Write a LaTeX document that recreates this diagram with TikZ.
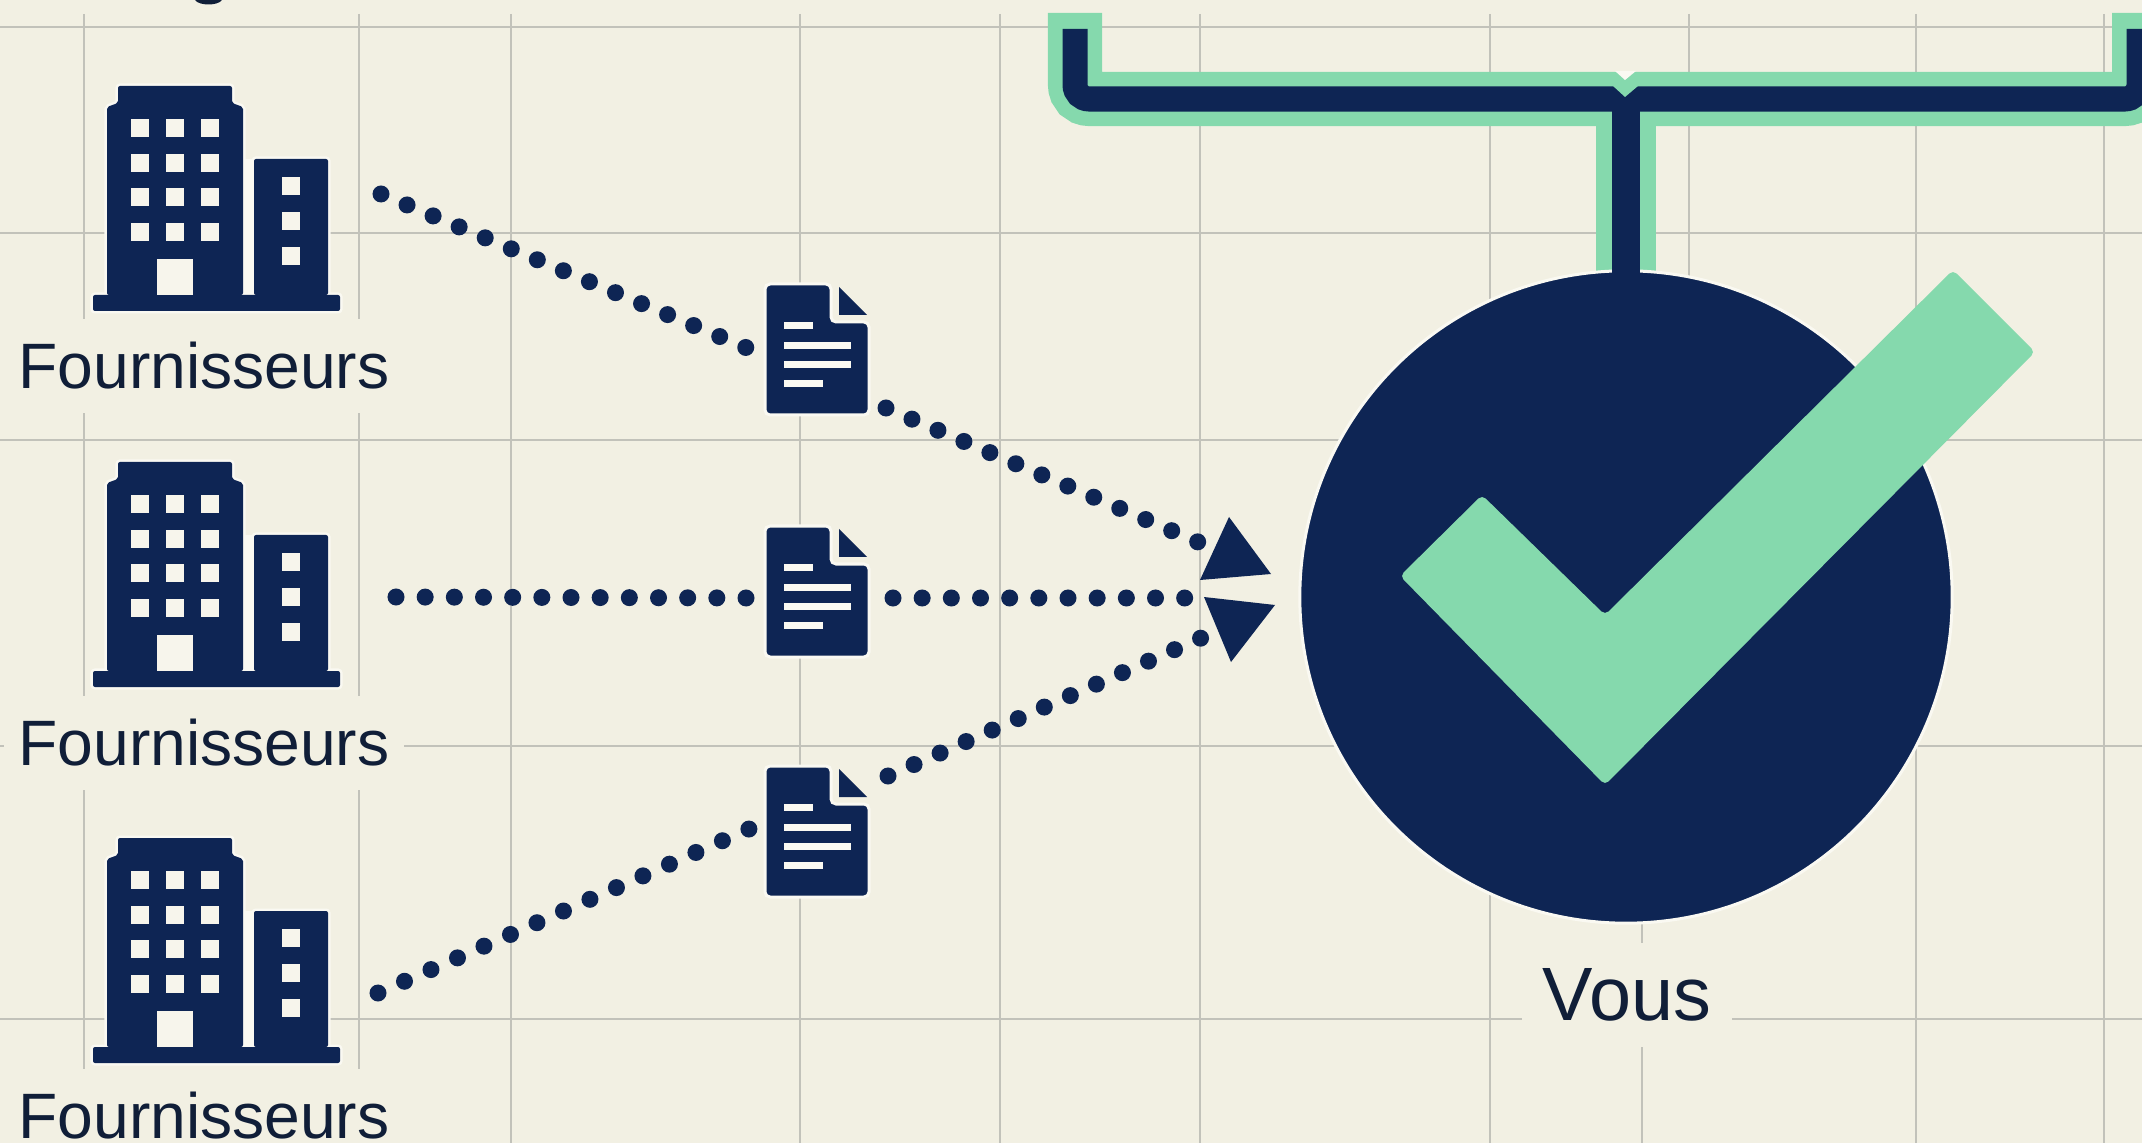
\documentclass[tikz,border=0pt]{standalone}
\usepackage{fontspec}
\setmainfont{Liberation Sans}

\definecolor{paper}{HTML}{F2F0E3}
\definecolor{rule}{HTML}{C2C2BA}
\definecolor{navy}{HTML}{0E2554}
\definecolor{mint}{HTML}{85D9AD}
\definecolor{halo}{HTML}{FAF9F2}
\definecolor{ink}{HTML}{101E38}

\tikzset{
  grid line/.style={draw=rule, line width=0.02cm},
  halofill/.style={fill=halo, draw=halo, line width=0.05cm},
  navyfill/.style={fill=navy},
  windowbox/.style={fill=halo!60!paper},
  textline/.style={fill=halo},
  dots/.style={draw=navy, line width=0.17cm, line cap=round, dash pattern=on 0pt off #1},
  supplier/.style={fill=paper, text=ink, inner sep=0pt, minimum width=4cm, minimum height=0.93cm, font=\fontsize{18.25}{20}\selectfont},
  you/.style={fill=paper, text=ink, inner sep=0pt, minimum width=2.09cm, minimum height=1.04cm, font=\fontsize{21.5}{24}\selectfont},
  tower/.pic={
    \path [#1, rounded corners=0.02cm] (107,295) -- (107,107) -- (118,103) -- (118,86) -- (232,86) -- (232,103) -- (243,107) -- (243,295) -- cycle;
    \path [#1, rounded corners=0.02cm] (254,295) -- (254,159) -- (328,159) -- (328,295) -- cycle;
    \path [#1, rounded corners=0.02cm] (93,295) rectangle (340,311);
  },
  building/.pic={
    \pic {tower=halofill};
    \fill [halo] (243,159) rectangle (254,295);
    \pic {tower=navyfill};
    \foreach \wx in {140,175,210}
      \foreach \wy in {128,163,197,232}
        \fill [windowbox] (\wx-9,\wy-9) rectangle (\wx+9,\wy+9);
    \foreach \wy in {186,221,256}
      \fill [windowbox] (282,\wy-9) rectangle (300,\wy+9);
    \fill [windowbox] (157,259) rectangle (193,295);
  },
  invoice/.pic={
    \draw [navyfill, draw=halo, line width=0.03cm, rounded corners=0.05cm] (0,0) -- (66,0) -- (66,38) -- (104,38) -- (104,131) -- (0,131) -- cycle;
    \fill [navy] (74,3) -- (102,31) -- (74,31) -- cycle;
    \fill [textline] (19,38) rectangle (48,45);
    \fill [textline] (19,58) rectangle (86,65);
    \fill [textline] (19,77) rectangle (86,84);
    \fill [textline] (19,96) rectangle (58,103);
  },
}

\begin{document}
\begin{tikzpicture}[x=0.01cm,y=-0.01cm]
\useasboundingbox (0,0) rectangle (2142,1143);
\clip (0,0) rectangle (2142,1143);
\fill [paper] (0,0) rectangle (2142,1143);

% grid
\foreach \gy in {27,233,440,746,1019}
  \draw [grid line] (0,\gy) -- (2142,\gy);
\foreach \gx in {84,359,511,800,1000,1200,1490,1916,2104}
  \draw [grid line] (\gx,14) -- (\gx,1143);
\draw [grid line] (1689,14) -- (1689,800);
\draw [grid line] (1642,900) -- (1642,1143);

% named ends
\coordinate (b1out) at (381,194);
\coordinate (b2out) at (396,597);
\coordinate (b3out) at (378,993);
\coordinate (d1in) at (747,348);
\coordinate (d2in) at (747,598);
\coordinate (d3in) at (749,829);
\coordinate (d1out) at (886,408);
\coordinate (d2out) at (893,598);
\coordinate (d3out) at (888,776);
\coordinate (h1) at (1198,542);
\coordinate (h2) at (1185,598);
\coordinate (h3) at (1201,638);
\coordinate (busL) at (1075,13);
\coordinate (busR) at (2139,13);
\coordinate (busJ) at (1626,99);

% top bus
\draw [mint, line width=0.54cm, rounded corners=0.14cm] (busL) -- (busL |- busJ) -- (busR |- busJ) -- (busR);
\draw [mint, line width=0.6cm] (busJ) -- (1626,290);
\draw [navy, line width=0.25cm, rounded corners=0.14cm] (1075,29) -- (busL |- busJ) -- (busR |- busJ) -- (2139,29);

% you
\node [circle, fill=navy, draw=halo, line width=0.03cm, inner sep=0pt, minimum size=6.52cm] (vous) at (1626,597) {};
\draw [navy, line width=0.28cm] (busJ) -- (vous.north) -- +(0,10);
\fill [halo] (1615,71) -- (1636,71) -- (1625,80) -- cycle;
\fill [mint] (1613,86) -- (1638,86) -- (1625,97) -- cycle;
\fill [mint, rounded corners=0.05cm] (1400,576) -- (1482,495) -- (1605,615) -- (1953,270) -- (2035,352) -- (1605,785) -- cycle;
\node [you] (youlabel) at (1627,995) {Vous};

% suppliers
\pic (bat1) at (0,0) {building};
\pic (bat2) at (0,376) {building};
\pic (bat3) at (0,752) {building};
\node [supplier] (lab1) at (204,366) {Fournisseurs};
\node [supplier] (lab2) at (204,743) {Fournisseurs};
\node [supplier] (lab3) at (204,1116) {Fournisseurs};

% documents
\pic (doc1) at (765,284) {invoice};
\pic (doc2) at (765,526) {invoice};
\pic (doc3) at (765,766) {invoice};

% dotted links
\draw [dots=0.2825cm] (b1out) -- (d1in);
\draw [dots=0.2915cm] (b2out) -- (d2in);
\draw [dots=0.2895cm] (b3out) -- (d3in);
\draw [dots=0.2825cm] (d1out) -- (h1);
\draw [dots=0.2915cm] (d2out) -- (h2);
\draw [dots=0.2845cm] (d3out) -- (h3);

% heads
\fill [navy] (1229,517) -- (1271,574) -- (1200,580) -- cycle;
\fill [navy] (1204,597) -- (1275,605) -- (1231,662) -- cycle;

% cut off letter at the top
\fill [ink] (195,0) .. controls (199,6) and (218,6) .. (222,0) -- cycle;
\end{tikzpicture}
\end{document}
